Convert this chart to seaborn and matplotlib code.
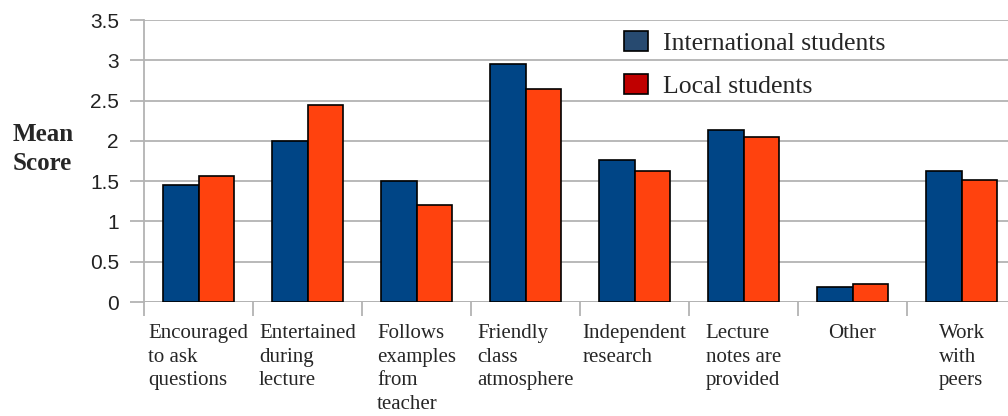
import matplotlib
matplotlib.use("Agg")
import matplotlib.pyplot as plt
from matplotlib.patches import Patch
import seaborn as sns
import pandas as pd

categories = [
    "Encouraged\nto ask\nquestions",
    "Entertained\nduring\nlecture",
    "Follows\nexamples\nfrom\nteacher",
    "Friendly\nclass\natmosphere",
    "Independent\nresearch",
    "Lecture\nnotes are\nprovided",
    "Other",
    "Work\nwith\npeers",
]
international = [1.45, 2.00, 1.50, 2.95, 1.76, 2.13, 0.19, 1.63]
local = [1.56, 2.44, 1.20, 2.64, 1.62, 2.05, 0.22, 1.51]
series = ["International students", "Local students"]
yticks = [0, 0.5, 1, 1.5, 2, 2.5, 3, 3.5]
ytick_labels = ["0", "0.5", "1", "1.5", "2", "2.5", "3", "3.5"]

df = pd.DataFrame({
    "category": categories * 2,
    "group": [series[0]] * len(categories) + [series[1]] * len(categories),
    "value": international + local,
})

sns.set_theme(style="white")
plt.rcParams["font.family"] = ["Liberation Serif", "DejaVu Sans"]

fig = plt.figure(figsize=(10.08, 4.16), dpi=100)
ax = fig.add_axes([144 / 1008, 114 / 416, 872 / 1008, 282 / 416])

bar_colors = {series[0]: "#004586", series[1]: "#ff420e"}
sns.barplot(data=df, x="category", y="value", hue="group", order=categories,
            hue_order=series, palette=bar_colors, width=0.65, saturation=1,
            edgecolor="black", linewidth=1.2, ax=ax, legend=False)

grid_c = "#b3b3b3"
ax.set_xlim(-0.5, len(categories) - 0.5)
ax.set_ylim(0, 3.5)
ax.set_axisbelow(True)
ax.yaxis.grid(True, color=grid_c, linewidth=1.3)
ax.xaxis.grid(False)
for s in ["top", "right", "bottom"]:
    ax.spines[s].set_visible(False)
ax.spines["left"].set_color(grid_c)
ax.spines["left"].set_linewidth(1.3)
ax.axhline(0, color=grid_c, linewidth=1.3, zorder=0)

ax.set_yticks(yticks)
ax.set_yticklabels(ytick_labels, family="Liberation Sans", fontsize=15, color="#222222")
ax.tick_params(axis="y", which="major", length=10, width=1.3, color=grid_c, pad=8, left=True)

ax.set_xticks(range(len(categories)))
ax.set_xticklabels(categories, fontsize=15, ha="center", multialignment="left",
                   va="top", linespacing=1.32)
ax.tick_params(axis="x", which="major", length=0, pad=16)
ax.set_xticks([i - 0.5 for i in range(len(categories) + 1)], minor=True)
ax.tick_params(axis="x", which="minor", length=10, width=1.3, color=grid_c, bottom=True)

ax.set_xlabel("")
ax.set_ylabel("")

fig.text(13 / 1008, 1 - 149 / 416, "Mean\nScore", ha="left", va="center",
         fontsize=18, fontweight="bold", linespacing=1.3)

handles = [Patch(facecolor="#274a70", edgecolor="black", linewidth=1.2),
           Patch(facecolor="#c00000", edgecolor="black", linewidth=1.2)]
fig.legend(handles, series, loc="upper left",
           bbox_to_anchor=(624 / 1008, 1 - 31 / 416), frameon=False,
           fontsize=18.5, borderpad=0, borderaxespad=0,
           handlelength=0.95, handleheight=0.85, handletextpad=0.55,
           labelspacing=0.72)

fig.savefig("out.png", dpi=100)
